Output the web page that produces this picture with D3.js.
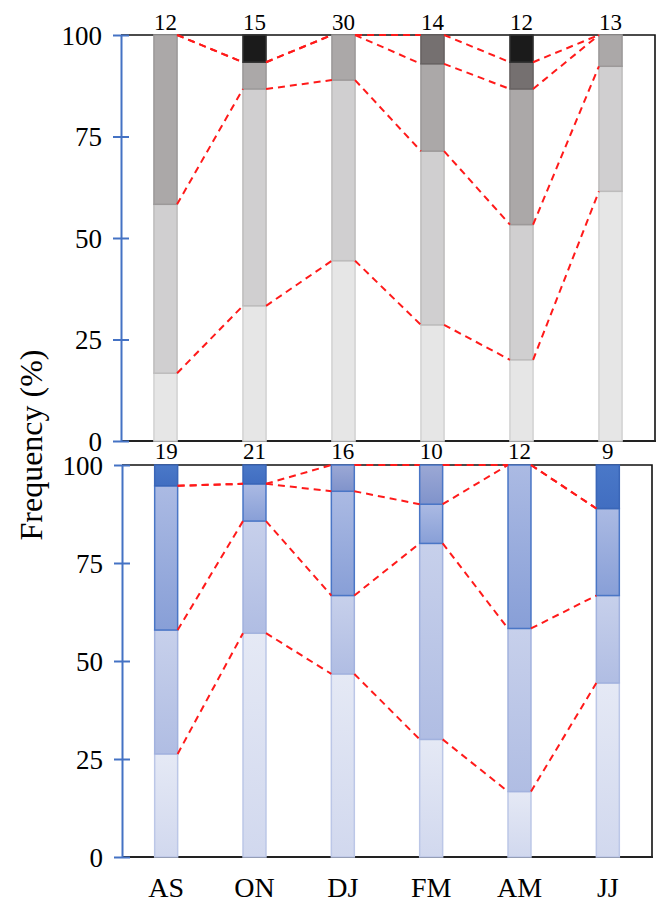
<!DOCTYPE html>
<html>
<head>
<meta charset="utf-8">
<script src="https://cdn.jsdelivr.net/npm/d3@7"></script>
<style>
  body { margin: 0; background: #fff; }
</style>
</head>
<body>
<div id="chart"></div>
<script>
// seasons and sample sizes
const seasons = ["AS", "ON", "DJ", "FM", "AM", "JJ"];
const countsTop = [12, 15, 30, 14, 12, 13];
const countsBottom = [19, 21, 16, 10, 12, 9];

// top panel (grey) - percentage of each class, lightest first
const topLevel1 = [16.7, 33.3, 44.4, 28.6, 20.0, 61.5];
const topLevel2 = [41.6, 53.4, 44.5, 42.8, 33.3, 30.8];
const topLevel3 = [41.7, 6.6, 11.1, 21.5, 33.4, 7.7];
const topLevel4 = [0, 0, 0, 7.1, 6.6, 0];
const topLevel5 = [0, 6.7, 0, 0, 6.7, 0];

// bottom panel (blue)
const botLevel1 = [26.3, 57.1, 46.7, 30.0, 16.7, 44.4];
const botLevel2 = [31.6, 28.6, 20.0, 50.0, 41.6, 22.3];
const botLevel3 = [36.8, 9.5, 26.6, 10.0, 41.7, 22.2];
const botLevel4 = [0, 0, 6.7, 10.0, 0, 0];
const botLevel5 = [5.3, 4.8, 0, 0, 0, 11.1];

const yTicks = [0, 25, 50, 75, 100];
const keys = ["l1", "l2", "l3", "l4", "l5"];

const width = 657, height = 902;
const serif = "'Liberation Serif', 'Times New Roman', 'DejaVu Serif', serif";

const svg = d3.select("#chart").append("svg")
  .attr("width", width)
  .attr("height", height)
  .attr("font-family", serif);

const defs = svg.append("defs");

// blue gradients, lighter at top of each segment
const blueStops = [
  ["#e5e9f5", "#d1d8ee"],
  ["#c7d0eb", "#b0bde3"],
  ["#abbae3", "#889fd7"],
  ["#9ba8d5", "#8093cb"],
  ["#4a78c8", "#416ec1"]
];
blueStops.forEach((s, i) => {
  const g = defs.append("linearGradient")
    .attr("id", "blue" + i)
    .attr("x1", 0).attr("y1", 0).attr("x2", 0).attr("y2", 1);
  g.append("stop").attr("offset", "0%").attr("stop-color", s[0]);
  g.append("stop").attr("offset", "100%").attr("stop-color", s[1]);
});

const greyFill = ["#e6e6e6", "#d0cfd0", "#aba8a8", "#757070", "#1b1b1b"];
const greyStroke = ["#d2d2d2", "#bdbcbc", "#9c9999", "#676262", "#333"];
const blueFill = blueStops.map((s, i) => `url(#blue${i})`);
const blueStroke = ["#bcc7e7", "#a2b2de", "#4a76c6", "#4a76c6", "#3a66b8"];

function rows(levels) {
  return seasons.map((s, i) => {
    const r = { season: s };
    keys.forEach((k, j) => (r[k] = levels[j][i]));
    return r;
  });
}

function panel(opts) {
  const x = d3.scaleBand().domain(seasons).range([opts.x0, opts.x1]);
  const y = d3.scaleLinear().domain([0, 100]).range([opts.yBottom, opts.yTop]);
  const barW = x.bandwidth() * 0.26;
  const cx = (d) => x(d) + x.bandwidth() / 2;

  const series = d3.stack().keys(keys)(rows(opts.levels));

  const g = svg.append("g");

  // frame: top and right thin black lines, bottom axis line
  g.append("path")
    .attr("d", `M${opts.x0},${y(100)}H${opts.x1}V${y(0)}`)
    .attr("fill", "none")
    .attr("stroke", "#111")
    .attr("stroke-width", 1.6);
  g.append("line")
    .attr("x1", opts.x0).attr("x2", opts.x1 + 1)
    .attr("y1", y(0)).attr("y2", y(0))
    .attr("stroke", "#222")
    .attr("stroke-width", 2.2);

  // left axis
  const axis = g.append("g")
    .attr("transform", `translate(${opts.x0},0)`)
    .call(d3.axisLeft(y).tickValues(yTicks).tickSize(0).tickPadding(19));
  axis.attr("font-family", serif).attr("font-size", 27);
  axis.select(".domain")
    .attr("stroke", "#4472c4")
    .attr("stroke-width", 2);
  axis.selectAll(".tick line").remove();
  axis.selectAll(".tick")
    .append("line")
    .attr("x1", -8).attr("x2", 8)
    .attr("stroke", "#4472c4")
    .attr("stroke-width", 2);
  axis.selectAll(".tick text")
    .attr("dy", "0.34em")
    .attr("fill", "#000");

  // stacked segments
  series.forEach((s, i) => {
    g.append("g")
      .selectAll("rect")
      .data(s.filter((d) => d[1] - d[0] > 0))
      .join("rect")
      .attr("x", (d) => cx(d.data.season) - barW / 2)
      .attr("width", barW)
      .attr("y", (d) => y(d[1]))
      .attr("height", (d) => y(d[0]) - y(d[1]))
      .attr("fill", opts.fills[i])
      .attr("stroke", opts.strokes[i])
      .attr("stroke-width", 1.5);
  });

  // red dashed connectors between class boundaries
  const links = [];
  series.slice(0, 4).forEach((s) => {
    for (let i = 0; i < s.length - 1; i++) {
      links.push({
        x1: cx(seasons[i]) + barW / 2,
        y1: y(s[i][1]),
        x2: cx(seasons[i + 1]) - barW / 2,
        y2: y(s[i + 1][1])
      });
    }
  });
  g.append("g")
    .selectAll("line")
    .data(links)
    .join("line")
    .attr("x1", (d) => d.x1).attr("y1", (d) => d.y1)
    .attr("x2", (d) => d.x2).attr("y2", (d) => d.y2)
    .attr("stroke", "#ff1a1a")
    .attr("stroke-width", 2)
    .attr("stroke-dasharray", "7,5");

  // sample sizes
  g.append("g")
    .selectAll("text")
    .data(opts.counts)
    .join("text")
    .attr("x", (d, i) => cx(seasons[i]))
    .attr("y", opts.countY)
    .attr("text-anchor", "middle")
    .attr("font-size", 23)
    .text((d) => d);

  return { x, cx };
}

panel({
  x0: 121, x1: 655, yTop: 35, yBottom: 441,
  levels: [topLevel1, topLevel2, topLevel3, topLevel4, topLevel5],
  fills: greyFill, strokes: greyStroke,
  counts: countsTop, countY: 30
});

const bottom = panel({
  x0: 122, x1: 652, yTop: 465, yBottom: 857,
  levels: [botLevel1, botLevel2, botLevel3, botLevel4, botLevel5],
  fills: blueFill, strokes: blueStroke,
  counts: countsBottom, countY: 459
});

// season labels
svg.append("g")
  .selectAll("text")
  .data(seasons)
  .join("text")
  .attr("x", (d) => bottom.cx(d))
  .attr("y", 897)
  .attr("text-anchor", "middle")
  .attr("font-size", 28)
  .text((d) => d);

// y label
svg.append("text")
  .attr("transform", "translate(42,445) rotate(-90)")
  .attr("text-anchor", "middle")
  .attr("font-size", 32)
  .text("Frequency (%)");
</script>
</body>
</html>
